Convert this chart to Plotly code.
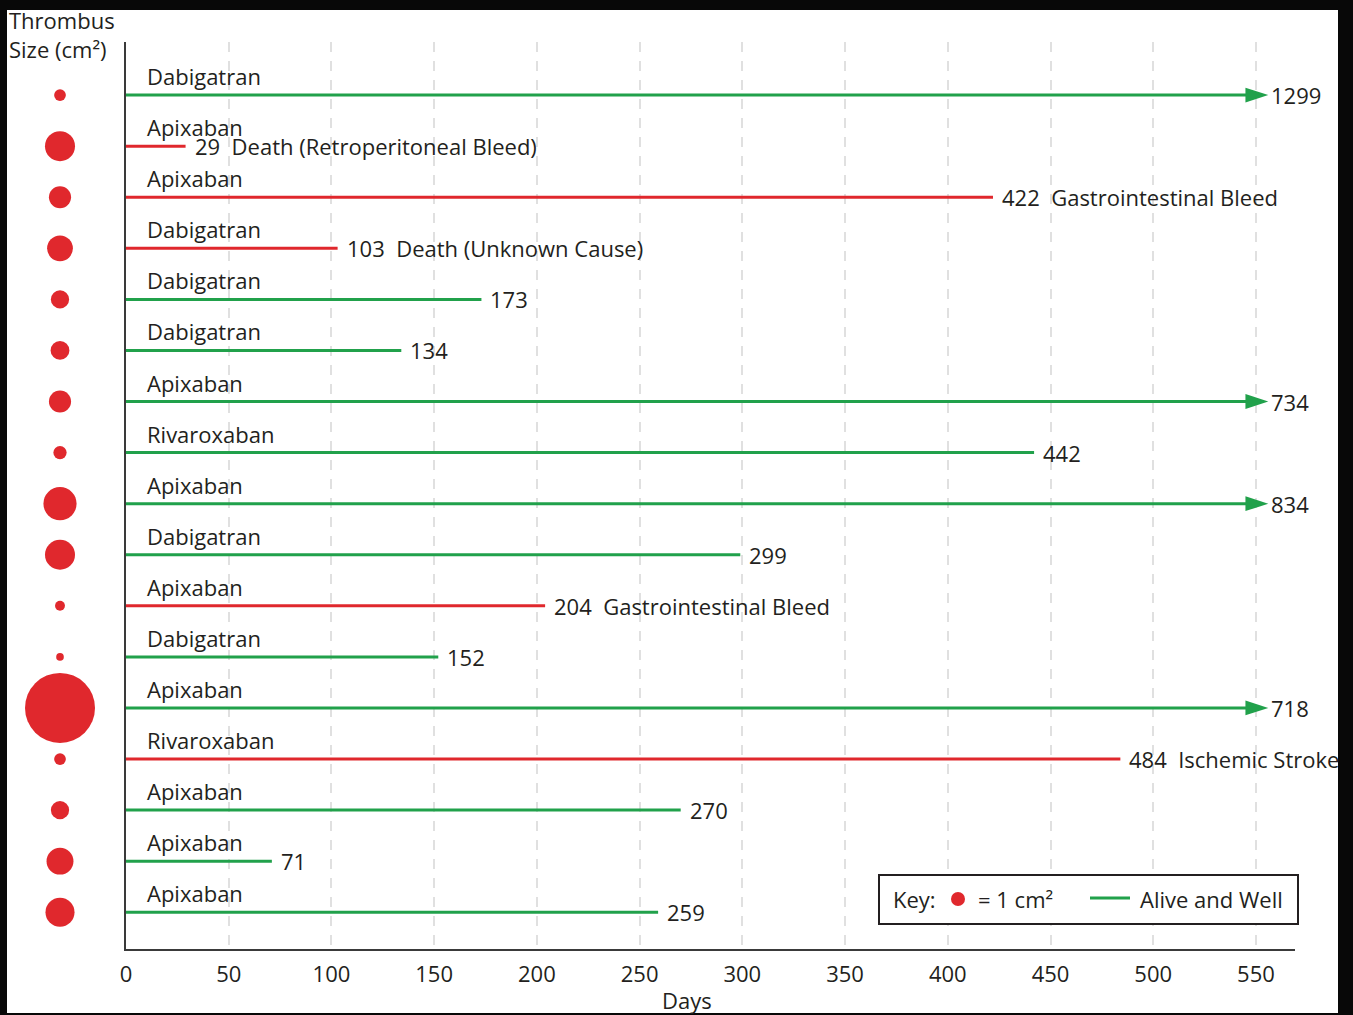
import math
import plotly.graph_objects as go

# ---------------- data ----------------
drugs = ["Dabigatran", "Apixaban", "Apixaban", "Dabigatran", "Dabigatran", "Dabigatran",
         "Apixaban", "Rivaroxaban", "Apixaban", "Dabigatran", "Apixaban", "Dabigatran",
         "Apixaban", "Rivaroxaban", "Apixaban", "Apixaban", "Apixaban"]
days = [1299, 29, 422, 103, 173, 134, 734, 442, 834, 299, 204, 152, 718, 484, 270, 71, 259]
outcomes = ["", "Death (Retroperitoneal Bleed)", "Gastrointestinal Bleed", "Death (Unknown Cause)",
            "", "", "", "", "", "", "Gastrointestinal Bleed", "", "", "Ischemic Stroke", "", "", ""]
thrombus_cm2 = [0.7, 4.6, 2.5, 3.4, 1.7, 1.8, 2.5, 0.9, 5.6, 4.6, 0.5, 0.3, 25.0, 0.7, 1.7, 3.7, 4.3]
x_ticks = [0, 50, 100, 150, 200, 250, 300, 350, 400, 450, 500, 550]
CAP_DAYS = 556  # follow-up beyond the axis is drawn truncated with an arrow

# ---------------- style ----------------
GREEN = "#21a14b"
RED = "#e0282d"
TEXT = "#231f20"
AXIS = "#3a3a3a"
FONT = "Open Sans"
FS = 22
KEY_PX = 14  # marker diameter for 1 cm^2

W, H = 1353, 1015
ML, MR, MT, MB = 7, 15, 10, 2
PW, PH = W - ML - MR, H - MT - MB


def px_x(px):
    return (px - ML) / PW


def px_y(py):
    return (H - MB - py) / PH


fig = go.Figure()
rows = list(range(len(days)))

for i, (d, o) in enumerate(zip(days, outcomes)):
    color = RED if o else GREEN
    capped = d > CAP_DAYS
    end = min(d, CAP_DAYS)
    kw = {}
    if capped:
        kw["mode"] = "lines+markers"
        kw["marker"] = dict(symbol="arrow", size=[0, 24], angleref="previous",
                            color=color, opacity=1, line=dict(width=0))
    else:
        kw["mode"] = "lines"
    fig.add_trace(go.Scatter(x=[0, end], y=[i, i], line=dict(color=color, width=3),
                             showlegend=False, hoverinfo="skip", **kw))
    label = f"{d}" + ("\u00a0\u00a0" + o if o else "")
    fig.add_annotation(x=end, y=i, xref="x", yref="y", text=label, showarrow=False,
                       xanchor="left", yanchor="middle", xshift=1 if capped else 7,
                       font=dict(family=FONT, size=FS, color=TEXT))
    fig.add_annotation(x=0, y=i, xref="x", yref="y", text=drugs[i], showarrow=False,
                       xanchor="left", yanchor="middle", xshift=19, yshift=19,
                       font=dict(family=FONT, size=FS, color=TEXT))

# thrombus size circles
fig.add_trace(go.Scatter(x=[0.5] * len(rows), y=rows, xaxis="x2", yaxis="y", mode="markers",
                         marker=dict(size=[KEY_PX * math.sqrt(s) for s in thrombus_cm2],
                                     color=RED, opacity=1, line=dict(width=0)),
                         cliponaxis=False, showlegend=False, hoverinfo="skip"))

fig.add_annotation(x=px_x(7), y=px_y(34), xref="paper", yref="paper",
                   text="Thrombus<br>Size (cm²)", showarrow=False, align="left",
                   xanchor="left", yanchor="middle",
                   font=dict(family=FONT, size=FS, color=TEXT))
fig.add_annotation(x=px_x(687), y=px_y(1000), xref="paper", yref="paper",
                   text="Days", showarrow=False, xanchor="center", yanchor="middle",
                   font=dict(family=FONT, size=FS, color=TEXT))

# white page area
fig.add_shape(type="rect", xref="paper", yref="paper", x0=0, x1=1, y0=0, y1=1,
              fillcolor="white", line=dict(width=0), layer="below")

# key box
fig.add_shape(type="rect", xref="paper", yref="paper", x0=px_x(879), x1=px_x(1298),
              y0=px_y(924), y1=px_y(875), fillcolor="white",
              line=dict(color=TEXT, width=2), layer="above")
fig.add_shape(type="circle", xref="paper", yref="paper", x0=px_x(951), x1=px_x(965),
              y0=px_y(906), y1=px_y(892), fillcolor=RED, line=dict(width=0), layer="above")
fig.add_shape(type="line", xref="paper", yref="paper", x0=px_x(1090), x1=px_x(1130),
              y0=px_y(898), y1=px_y(898), line=dict(color=GREEN, width=3), layer="above")
for txt, px in [("Key:", 891), ("= 1 cm²", 976), ("Alive and Well", 1138)]:
    fig.add_annotation(x=px_x(px), y=px_y(899), xref="paper", yref="paper", text=txt,
                       showarrow=False, xanchor="left", yanchor="middle",
                       font=dict(family=FONT, size=FS, color=TEXT))

fig.update_layout(
    width=W, height=H,
    margin=dict(l=ML, r=MR, t=MT, b=MB, pad=0),
    paper_bgcolor="#080808", plot_bgcolor="white",
    font=dict(family=FONT, size=FS, color=TEXT),
    showlegend=False,
    xaxis=dict(domain=[px_x(126), px_x(1295)], range=[0, 569], tickvals=x_ticks,
               showgrid=True, gridcolor="#e0e0e0", gridwidth=1.5, griddash="10px,9px",
               showline=True, linecolor=AXIS, linewidth=2, zeroline=False, ticks="",
               ticklabelstandoff=5, tickfont=dict(family=FONT, size=FS, color=TEXT),
               anchor="y"),
    yaxis=dict(domain=[px_y(949), px_y(42)], range=[16.72, -1.04], showgrid=False,
               showticklabels=False, ticks="", showline=True, linecolor=AXIS, linewidth=2,
               zeroline=False, anchor="x"),
    xaxis2=dict(domain=[0, px_x(113)], range=[0, 1], visible=False, anchor="y"),
)

fig.write_html("out.html", config={"displayModeBar": False},
               post_script="document.body.style.margin='0px';")
